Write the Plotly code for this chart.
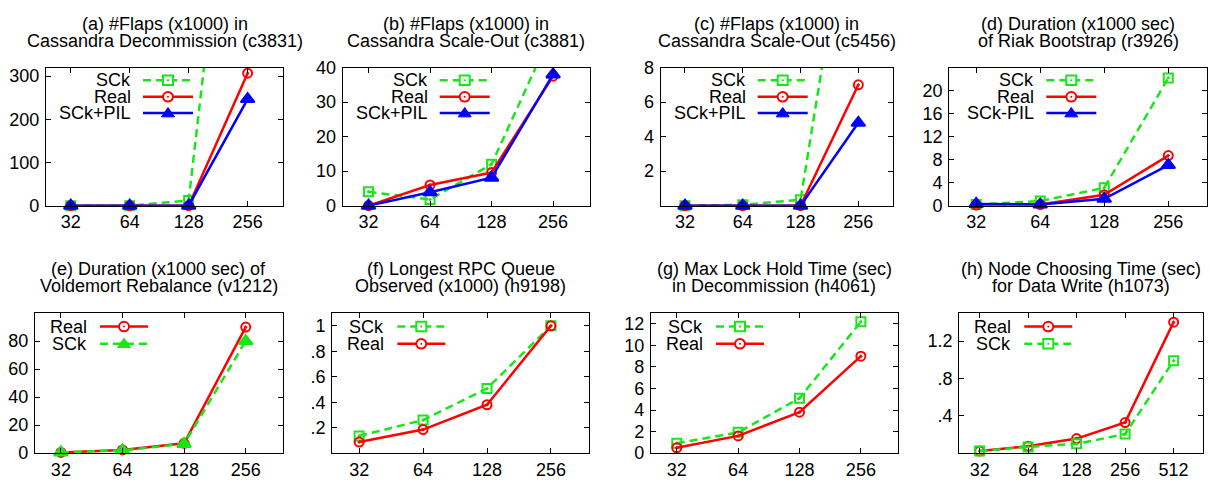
import plotly.graph_objects as go

W, H = 1209, 490
FONT = "Liberation Sans, Arial, Helvetica, sans-serif"

# ---------------- data ----------------
cats4 = [32, 64, 128, 256]
cats5 = [32, 64, 128, 256, 512]

a_sck = [0, 0, 12, 1200]
a_real = [0, 0, 0, 307]
a_pil = [0, 0, 0, 247]

b_sck = [4, 1.8, 12, 51]
b_real = [0, 6, 9.6, 37.5]
b_pil = [0, 3.9, 8.1, 38]

c_sck = [0, 0.05, 0.35, 21]
c_real = [0, 0, 0, 7]
c_pil = [0, 0, 0, 4.8]

d_sck = [0.2, 0.8, 3.1, 22.2]
d_real = [0.1, 0.2, 1.9, 8.7]
d_pil = [0.3, 0.2, 1.2, 7.05]

e_real = [0.5, 2.3, 7, 90]
e_sck = [0.5, 2, 6.6, 80]

f_sck = [0.135, 0.26, 0.507, 1.0]
f_real = [0.087, 0.185, 0.38, 1.0]

g_sck = [0.92, 1.93, 5.1, 12.2]
g_real = [0.5, 1.6, 3.8, 9.0]

h_real = [0.022, 0.074, 0.156, 0.328, 1.403]
h_sck = [0.022, 0.067, 0.10, 0.204, 0.99]

titles = [
    ("(a) #Flaps (x1000) in", "Cassandra Decommission (c3831)"),
    ("(b) #Flaps (x1000) in", "Cassandra Scale-Out (c3881)"),
    ("(c) #Flaps (x1000) in", "Cassandra Scale-Out (c5456)"),
    ("(d) Duration (x1000 sec)", "of Riak Bootstrap (r3926)"),
    ("(e) Duration (x1000 sec) of", "Voldemort Rebalance (v1212)"),
    ("(f) Longest RPC Queue", "Observed (x1000) (h9198)"),
    ("(g) Max Lock Hold Time (sec)", "in Decommission (h4061)"),
    ("(h) Node Choosing Time (sec)", "for Data Write (h1073)"),
]

# ---------------- styles ----------------
GREEN = "#19e619"
RED = "#ff0000"
BLUE = "#0000ff"
STY = {
    "sq": dict(color=GREEN, dash="8px,5px", symbol="square-open-dot", size=9),
    "ci": dict(color=RED, dash="solid", symbol="circle-open-dot", size=9),
    "tri": dict(color=BLUE, dash="solid", symbol="triangle-up", size=12),
    "gtri": dict(color=GREEN, dash="8px,5px", symbol="triangle-up", size=12),
}
FS = 18

# frame pixel boxes: x0, x1, y0, y1
panels = [
    dict(box=(46, 283, 60, 204), cats=cats4, yr=[0, 320], tv=[0, 100, 200, 300], tt=None,
         series=[("SCk", a_sck, "sq"), ("Real", a_real, "ci"), ("SCk+PIL", a_pil, "tri")]),
    dict(box=(342.7, 590, 60, 204), cats=cats4, yr=[0, 40], tv=[0, 10, 20, 30, 40], tt=None,
         series=[("SCk", b_sck, "sq"), ("Real", b_real, "ci"), ("SCk+PIL", b_pil, "tri")]),
    dict(box=(660.7, 893, 60, 204), cats=cats4, yr=[0, 8], tv=[2, 4, 6, 8], tt=None,
         series=[("SCk", c_sck, "sq"), ("Real", c_real, "ci"), ("SCk+PIL", c_pil, "tri")]),
    dict(box=(949.3, 1206.7, 60, 204), cats=cats4, yr=[0, 24], tv=[0, 4, 8, 12, 16, 20], tt=None,
         series=[("SCk", d_sck, "sq"), ("Real", d_real, "ci"), ("SCk-PIL", d_pil, "tri")]),
    dict(box=(35, 282.7, 316, 462), cats=cats4, yr=[0, 100], tv=[0, 20, 40, 60, 80], tt=None,
         series=[("Real", e_real, "ci"), ("SCk", e_sck, "gtri")]),
    dict(box=(332.3, 589.3, 316, 462), cats=cats4, yr=[0, 1.1], tv=[0.2, 0.4, 0.6, 0.8, 1.0],
         tt=[".2", ".4", ".6", ".8", "1"],
         series=[("SCk", f_sck, "sq"), ("Real", f_real, "ci")]),
    dict(box=(651, 897.7, 316, 462), cats=cats4, yr=[0, 13], tv=[0, 2, 4, 6, 8, 10, 12], tt=None,
         series=[("SCk", g_sck, "sq"), ("Real", g_real, "ci")]),
    dict(box=(959.3, 1202.7, 316, 462), cats=cats5, yr=[0, 1.5], tv=[0.4, 0.8, 1.2],
         tt=[".4", ".8", "1.2"],
         series=[("Real", h_real, "ci"), ("SCk", h_sck, "sq")]),
]

fig = go.Figure()
layout = dict(
    width=W, height=H, margin=dict(l=0, r=0, t=0, b=0),
    paper_bgcolor="white", plot_bgcolor="rgba(0,0,0,0)",
    showlegend=False, font=dict(family=FONT, size=FS, color="black"),
)
annotations = []
shapes = []


def px(x):
    return x / W


def py(y):
    return 1 - y / H


for i, p in enumerate(panels):
    k = "" if i == 0 else str(i + 1)
    x0, x1, y0, y1 = p["box"]
    n = len(p["cats"])
    xs = list(range(n))
    axstyle = dict(showline=True, linecolor="black", linewidth=1.3, mirror="ticks",
                   ticks="inside", ticklen=5, tickwidth=1, tickcolor="black",
                   showgrid=False, zeroline=False,
                   tickfont=dict(family=FONT, size=FS, color="black"))
    layout["xaxis" + k] = dict(domain=[px(x0), px(x1)], anchor="y" + k,
                               range=[-0.42, n - 1 + 0.6], tickvals=xs,
                               ticktext=[str(c) for c in p["cats"]], **axstyle)
    yd = dict(domain=[py(y1), py(y0)], anchor="x" + k, range=p["yr"],
              tickvals=p["tv"], ticklabelstandoff=2, **axstyle)
    if p["tt"] is not None:
        yd["ticktext"] = p["tt"]
    layout["yaxis" + k] = yd

    for name, vals, st in p["series"]:
        s = STY[st]
        inside = [v <= p["yr"][1] for v in vals]
        fig.add_trace(go.Scatter(
            x=xs, y=vals, name=name, mode="lines+markers",
            xaxis="x" + k, yaxis="y" + k, cliponaxis=False,
            line=dict(color=s["color"], width=2.5, dash=s["dash"]),
            marker=dict(symbol=s["symbol"], size=[s["size"] if t else 0 for t in inside],
                        opacity=[1 if t else 0 for t in inside],
                        color=s["color"], line=dict(color=s["color"], width=2)),
        ))

    # title (two lines)
    cx = (x0 + x1) / 2
    ty = 15 if y0 < 100 else 270
    for j, line in enumerate(titles[i]):
        annotations.append(dict(x=px(cx), y=py(ty + j * 17.7), xref="paper", yref="paper",
                                text=line, showarrow=False, xanchor="center", yanchor="middle",
                                font=dict(family=FONT, size=FS, color="black")))

    # legend (gnuplot style: right-justified text, sample to the right)
    if y0 < 100:
        tr, s0, s1, rows = 87, 97, 147, [13.3, 30.5, 47.5]
    else:
        tr, s0, s1, rows = 54, 65, 113, [14, 32]
    for (name, vals, st), ry in zip(p["series"], rows):
        s = STY[st]
        yy = y0 + ry
        annotations.append(dict(x=px(x0 + tr), y=py(yy), xref="paper", yref="paper",
                                text=name, showarrow=False, xanchor="right", yanchor="middle",
                                font=dict(family=FONT, size=FS, color="black")))
        shapes.append(dict(type="line", xref="paper", yref="paper",
                           x0=px(x0 + s0), x1=px(x0 + s1), y0=py(yy), y1=py(yy),
                           line=dict(color=s["color"], width=2.5, dash=s["dash"])))
        mx = x0 + (s0 + s1) / 2
        if st in ("sq",):
            r = 5
            shapes.append(dict(type="rect", xref="paper", yref="paper",
                               x0=px(mx - r), x1=px(mx + r), y0=py(yy - r), y1=py(yy + r),
                               fillcolor="white", line=dict(color=s["color"], width=2)))
            shapes.append(dict(type="rect", xref="paper", yref="paper",
                               x0=px(mx - 1), x1=px(mx + 1), y0=py(yy - 1), y1=py(yy + 1),
                               fillcolor=s["color"], line=dict(width=0)))
        elif st == "ci":
            r = 5
            shapes.append(dict(type="circle", xref="paper", yref="paper",
                               x0=px(mx - r), x1=px(mx + r), y0=py(yy - r), y1=py(yy + r),
                               fillcolor="white", line=dict(color=s["color"], width=2)))
            shapes.append(dict(type="circle", xref="paper", yref="paper",
                               x0=px(mx - 1), x1=px(mx + 1), y0=py(yy - 1), y1=py(yy + 1),
                               fillcolor=s["color"], line=dict(width=0)))
        else:
            r = 6.5
            path = "M {a},{b} L {c},{d} L {e},{f} Z".format(
                a=px(mx - r), b=py(yy + r * 0.6), c=px(mx + r), d=py(yy + r * 0.6),
                e=px(mx), f=py(yy - r * 0.9))
            shapes.append(dict(type="path", xref="paper", yref="paper", path=path,
                               fillcolor=s["color"], line=dict(color=s["color"], width=1)))

layout["annotations"] = annotations
layout["shapes"] = shapes
fig.update_layout(**layout)
fig.write_html("out.html", config={"displayModeBar": False},
               post_script="document.body.style.margin='0';")
